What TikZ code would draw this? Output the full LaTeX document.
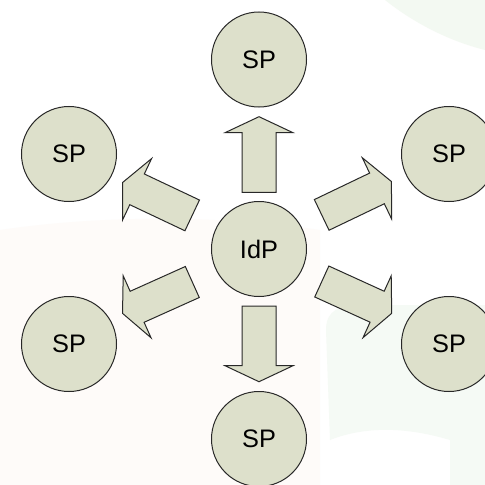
\documentclass[tikz,border=0pt]{standalone}
\usepackage{fontspec}
\setmainfont{Liberation Sans}
\definecolor{nodefill}{RGB}{221,224,203}
\definecolor{edgecol}{RGB}{40,40,40}
\definecolor{bggreen}{RGB}{243,249,242}
\definecolor{bggreenb}{RGB}{245,250,245}
\definecolor{bgbeige}{RGB}{254,251,249}
\begin{document}
\begin{tikzpicture}[x=0.75pt,y=-0.75pt,
  party/.style={circle, draw=edgecol, line width=0.75pt, fill=nodefill,
    minimum size=71.25pt, inner sep=0pt, font=\fontsize{19}{21}\selectfont},
  blockarrow/.style={draw=edgecol, line width=0.75pt, fill=nodefill, line join=miter}]
\useasboundingbox (0,0) rectangle (485,485);
\begin{scope}
\clip (0,0) rectangle (485,485);
\fill[white] (0,0) rectangle (485,485);
% faint background shapes
\fill[bgbeige] (0,230) .. controls (100,215) and (220,215) .. (320,230) -- (320,485) -- (0,485) -- cycle;
\fill[bggreen] (385,0) .. controls (410,20) and (445,40) .. (485,50) -- (485,0) -- cycle;
\fill[bggreenb] (326,330) .. controls (326,310) and (340,305) .. (360,305) -- (485,305) -- (485,485) -- (450,485) -- (450,440) .. controls (400,425) and (360,428) .. (330,440) -- cycle;
\end{scope}
% nodes
\node[party] (idp) at (259,249) {IdP};
\node[party] (spn) at (259,59.5) {SP};
\node[party] (sps) at (259,439) {SP};
\node[party] (spnw) at (69,154) {SP};
\node[party] (spsw) at (69,344) {SP};
\node[party] (spne) at (449,154) {SP};
\node[party] (spse) at (449,344) {SP};
% block arrows: tail centre, angle, length
\newcommand{\blockarr}[3]{%
  \draw[blockarrow, shift={#1}, rotate=#2]
    (0,-17) -- (#3-16,-17) -- (#3-16,-34) -- (#3,0) -- (#3-16,34) -- (#3-16,17) -- (0,17) -- cycle;}
\blockarr{(259,192.3)}{90}{75.6}
\blockarr{(259,306)}{-90}{75.7}
\blockarr{(321.7,214.9)}{25.6}{77.3}
\blockarr{(321.8,281.5)}{-24.5}{76.8}
\blockarr{(192.2,215.4)}{154.7}{77}
\blockarr{(192.3,282)}{-155.8}{76.5}
\end{tikzpicture}
\end{document}
